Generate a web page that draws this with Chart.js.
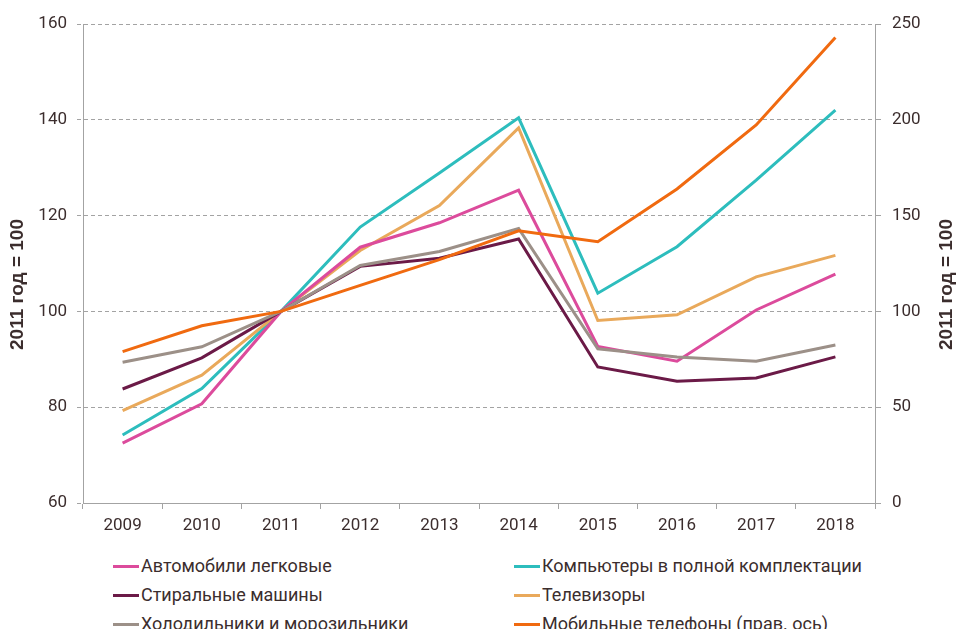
<!DOCTYPE html>
<html lang="ru">
<head>
<meta charset="utf-8">
<script src="https://cdn.jsdelivr.net/npm/chart.js@4.4.1/dist/chart.umd.min.js"></script>
<style>
  html, body { margin: 0; padding: 0; background: #fff; }
  body { width: 957px; height: 629px; overflow: hidden; position: relative; }
  #chartBox { position: absolute; left: 0; top: 0; width: 957px; height: 540px; }
  #legend { position: absolute; left: 0; top: 551px; width: 957px; font-family: Roboto, sans-serif; font-size: 18px; color: #3b2d2d; }
  .item { position: absolute; height: 29px; line-height: 29px; white-space: nowrap; }
  .item .swatch { display: inline-block; width: 26px; height: 3px; vertical-align: middle; margin-right: 2px; position: relative; top: -1px; }
</style>
</head>
<body>
<div id="chartBox"><canvas id="chart" width="957" height="540"></canvas></div>
<div id="legend"></div>
<script>
const years = ['2009', '2010', '2011', '2012', '2013', '2014', '2015', '2016', '2017', '2018'];

// левая ось, 2011 = 100
const cars      = [72.5, 80.7, 100, 113.4, 118.5, 125.3, 92.7, 89.6, 100.3, 107.8];
const computers = [74.2, 83.9, 100, 117.6, 128.9, 140.4, 103.8, 113.5, 127.4, 142.0];
const washers   = [83.8, 90.3, 100, 109.4, 111.1, 115.1, 88.4, 85.4, 86.1, 90.5];
const tvs       = [79.3, 86.7, 100, 112.7, 122.1, 138.3, 98.1, 99.3, 107.2, 111.7];
const fridges   = [89.4, 92.6, 100, 109.6, 112.5, 117.3, 92.2, 90.5, 89.6, 93.0];
// правая ось
const mobiles   = [79.0, 92.5, 100, 113.6, 127.0, 142.1, 136.4, 163.9, 197.3, 242.9];

const leftTicks = { min: 60, max: 160, step: 20 };
const rightTicks = { min: 0, max: 250, step: 50 };
const axisTitle = '2011 год = 100';

const textColor = '#3b2d2d';
const axisColor = '#a3a3a3';

const series = [
  { label: 'Автомобили легковые', data: cars, color: '#dc4b9c', axis: 'y', order: 3 },
  { label: 'Компьютеры в полной комплектации', data: computers, color: '#2dbdbd', axis: 'y', order: 5 },
  { label: 'Стиральные машины', data: washers, color: '#6b1a47', axis: 'y', order: 2 },
  { label: 'Телевизоры', data: tvs, color: '#e9a95b', axis: 'y', order: 4 },
  { label: 'Холодильники и морозильники', data: fridges, color: '#9c9088', axis: 'y', order: 1 },
  { label: 'Мобильные телефоны (прав. ось)', data: mobiles, color: '#f06a10', axis: 'y2', order: 0 }
];

const tickFont = { family: 'Roboto', size: 17 };

// подписи осей (правая читается снизу вверх, как левая)
const axisTitles = {
  id: 'axisTitles',
  afterDraw(chart) {
    const ctx = chart.ctx;
    const a = chart.chartArea;
    const cy = a.top + (a.bottom - a.top) / 2 + 21;
    ctx.save();
    ctx.font = 'bold 19px "Liberation Sans"';
    ctx.fillStyle = textColor;
    ctx.textAlign = 'center';
    ctx.textBaseline = 'middle';
    [18, chart.width - 10].forEach(x => {
      ctx.save();
      ctx.translate(x, cy);
      ctx.rotate(-Math.PI / 2);
      ctx.fillText(axisTitle, 0, 0);
      ctx.restore();
    });
    ctx.restore();
  }
};

const ctx = document.getElementById('chart').getContext('2d');
const chart = new Chart(ctx, {
  type: 'line',
  data: {
    labels: years,
    datasets: series.map(s => ({
      label: s.label,
      data: s.data,
      yAxisID: s.axis,
      order: s.order,
      borderColor: s.color,
      backgroundColor: s.color,
      borderWidth: 3,
      pointRadius: 0,
      tension: 0,
      fill: false
    }))
  },
  options: {
    responsive: false,
    devicePixelRatio: 1,
    animation: false,
    layout: { padding: { top: 24, left: 0, right: 0, bottom: 0 } },
    plugins: {
      legend: { display: false },
      tooltip: { enabled: false }
    },
    scales: {
      x: {
        offset: true,
        grid: { drawOnChartArea: false, offset: true, tickLength: 6, color: axisColor },
        border: { color: axisColor },
        ticks: { color: textColor, font: tickFont, padding: 7, maxRotation: 0 },
        afterFit: s => { s.height = 540 - 503; }
      },
      y: {
        position: 'left',
        min: leftTicks.min,
        max: leftTicks.max,
        grid: { color: axisColor, tickLength: 6, tickBorderDash: [4, 3] },
        border: { color: axisColor, dash: [4, 3] },
        ticks: { stepSize: leftTicks.step, color: textColor, font: tickFont, padding: 10 },
        afterFit: s => { s.width = 83; }
      },
      y2: {
        position: 'right',
        min: rightTicks.min,
        max: rightTicks.max,
        grid: { drawOnChartArea: false, tickLength: 6, color: axisColor },
        border: { color: axisColor },
        ticks: { stepSize: rightTicks.step, color: textColor, font: tickFont, padding: 11 },
        afterFit: s => { s.width = 957 - 875; }
      }
    }
  },
  plugins: [axisTitles]
});

// легенда в два столбца, как в оригинале
const legend = document.getElementById('legend');
const colX = [113, 514];
series.forEach((s, i) => {
  const item = document.createElement('div');
  item.className = 'item';
  item.style.left = colX[i % 2] + 'px';
  item.style.top = Math.floor(i / 2) * 29 + 'px';
  const sw = document.createElement('span');
  sw.className = 'swatch';
  sw.style.background = s.color;
  item.appendChild(sw);
  item.appendChild(document.createTextNode(s.label));
  legend.appendChild(item);
});
</script>
</body>
</html>
